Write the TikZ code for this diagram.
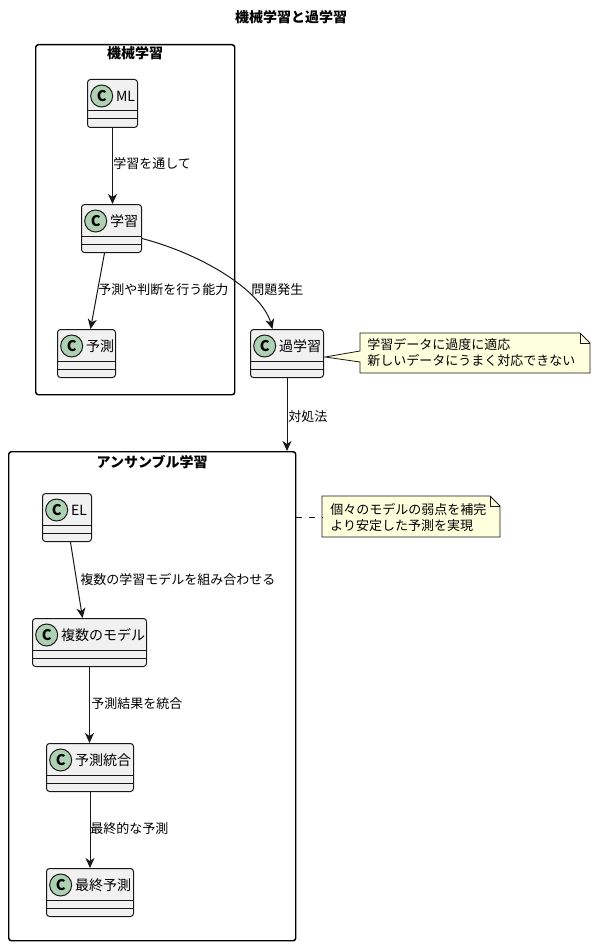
\documentclass[tikz,border=0pt]{standalone}
\usepackage{fontspec}
\setmainfont{Noto Sans CJK JP}
\usetikzlibrary{arrows.meta,calc}
\definecolor{clsfill}{HTML}{F1F1F1}
\definecolor{lineclr}{HTML}{181818}
\definecolor{spotfill}{HTML}{ADD1B2}
\definecolor{notefill}{HTML}{FEFFDD}
\newcommand\umlclass[5]{%
  \node[classbox, minimum width={(#4-#2)*0.75pt}] (#1) at (#2,#3) {};
  \draw[classline] ([yshift=-24pt]#1.north west) -- ([yshift=-24pt]#1.north east);
  \draw[classline] ([yshift=-30pt]#1.north west) -- ([yshift=-30pt]#1.north east);
  \node[spot] (#1c) at ([xshift=11pt,yshift=-12.75pt]#1.north west) {C};
  \node[cname] (#1t) at ([xshift=2pt]#1c.east) {#5};
}
\begin{document}
\begin{tikzpicture}[x=0.75pt,y=-0.75pt,
  classbox/.style={draw=lineclr, fill=clsfill, line width=0.75pt, rounded corners=2.25pt, minimum height=36pt, inner sep=0pt, anchor=north west},
  classline/.style={draw=lineclr, line width=0.75pt},
  spot/.style={circle, draw=lineclr, fill=spotfill, line width=0.75pt, minimum size=16.5pt, inner sep=0pt, font=\fontsize{11pt}{11pt}\selectfont\bfseries},
  cname/.style={font=\fontsize{10.5pt}{12pt}\selectfont, inner sep=0pt, anchor=west},
  pkg/.style={draw=black, line width=1.1pt, rounded corners=2pt, inner sep=0pt, anchor=north west},
  pkgtitle/.style={font=\fontsize{10.5pt}{12pt}\selectfont\bfseries, inner sep=0pt},
  edge/.style={draw=lineclr, line width=0.75pt, -{Stealth[length=7.5pt,width=6.75pt,inset=2.25pt]}},
  elabel/.style={font=\fontsize{9.75pt}{11pt}\selectfont, inner sep=0pt, anchor=west},
  notebody/.style={draw=lineclr, fill=notefill, line width=0.6pt},
  notetext/.style={font=\fontsize{9.75pt}{12pt}\selectfont, align=left, inner sep=0pt, anchor=west}
]
\useasboundingbox[fill=white] (0,0) rectangle (594,945);

% title
\node[pkgtitle] (title) at (291,17) {機械学習と過学習};

% packages
\node[pkg, minimum width=149.25pt, minimum height=262.5pt] (pkg1) at (35,44) {};
\node[pkgtitle] (pkg1t) at ([yshift=-6.75pt]pkg1.north) {機械学習};
\node[pkg, minimum width=215.25pt, minimum height=366.75pt] (pkg2) at (8,451) {};
\node[pkgtitle] (pkg2t) at ([yshift=-8pt]pkg2.north) {アンサンブル学習};

% classes
\umlclass{ml}{87}{79}{137}{ML}
\umlclass{xue}{81}{204}{141}{学習}
\umlclass{yosoku}{57}{329}{115}{予測}
\umlclass{kagaku}{250}{329}{323}{過学習}
\umlclass{el}{42}{493}{91}{EL}
\umlclass{fukusu}{32}{618}{146}{複数のモデル}
\umlclass{togo}{46}{743}{133}{予測統合}
\umlclass{saishu}{46}{868}{133}{最終予測}

% edges
\draw[edge] (ml.south) -- (ml.south |- xue.north);
\node[elabel] (l1) at (113,164) {学習を通して};
\draw[edge] ([xshift=-5.25pt]xue.south) -- ([xshift=3pt]yosoku.north);
\node[elabel] (l2) at (98,290) {予測や判断を行う能力};
\draw[edge] ([yshift=-7.5pt]xue.east) .. controls (205,255) and (262,292) .. ([xshift=-10.9pt]kagaku.north);
\node[elabel] (l3) at (251,290) {問題発生};
\draw[edge] (kagaku.south) -- (kagaku.south |- pkg2.north);
\node[elabel] (l4) at (288,417) {対処法};
\draw[edge] ([xshift=2.6pt]el.south) -- ([xshift=-5.25pt]fukusu.north);
\node[elabel] (l5) at (80,579) {複数の学習モデルを組み合わせる};
\draw[edge] (fukusu.south) -- (fukusu.south |- togo.north);
\node[elabel] (l6) at (91,704) {予測結果を統合};
\draw[edge] (togo.south) -- (saishu.north);
\node[elabel] (l7) at (90,829) {最終的な予測};

% note 1
\draw[notebody] (360,333) -- (580,333) -- (590,343) -- (590,373) -- (360,373) -- (360,362) -- (325,357) -- (360,351) -- cycle;
\draw[notebody, fill=none] (580,333) -- (580,343) -- (590,343);
\node[notetext] (n1) at (367,353) {学習データに過度に適応\\新しいデータにうまく対応できない};

% note 2
\draw[notebody] (322,496) -- (490,496) -- (500,506) -- (500,537) -- (322,537) -- cycle;
\draw[notebody, fill=none] (490,496) -- (490,506) -- (500,506);
\node[notetext] (n2) at (330,518) {個々のモデルの弱点を補完\\より安定した予測を実現};
\coordinate (n2tip) at (322,517);
\draw[draw=lineclr, line width=0.75pt, dash pattern=on 4.5pt off 5pt] (pkg2.east |- n2tip) -- (n2tip);
\end{tikzpicture}
\end{document}
